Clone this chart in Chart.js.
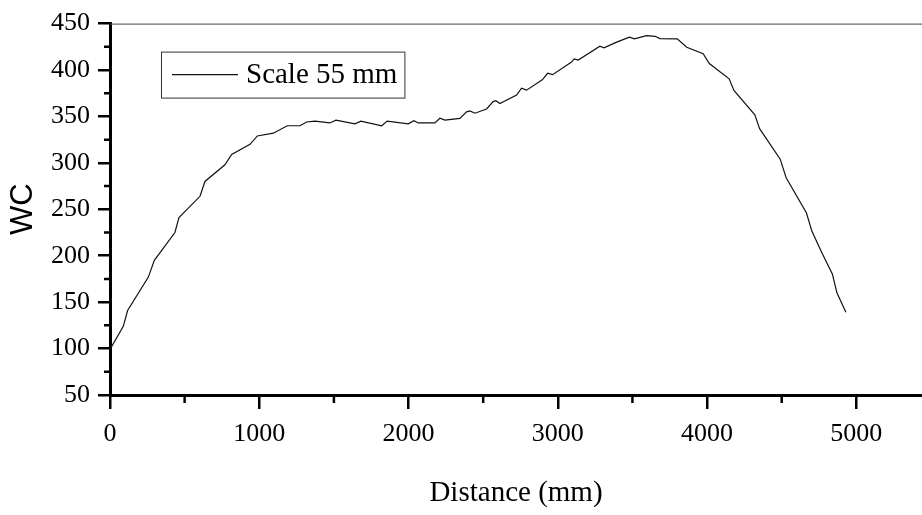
<!DOCTYPE html>
<html>
<head>
<meta charset="utf-8">
<script src="https://cdn.jsdelivr.net/npm/chart.js@4.4.1/dist/chart.umd.min.js"></script>
<style>
  html, body { margin: 0; padding: 0; background: #fff; }
</style>
</head>
<body>
<canvas id="myChart" width="922" height="515"></canvas>
<script>
// distance along the scale (mm) and WC reading
const distance = [0, 89, 118, 257, 297, 435, 462, 603, 636, 770, 815, 938, 987, 1094, 1188,
  1273, 1317, 1373, 1473, 1514, 1641, 1681, 1820, 1857, 1998, 2036, 2065, 2177, 2210, 2244,
  2344, 2389, 2411, 2445, 2523, 2567, 2585, 2612, 2724, 2757, 2791, 2896, 2932, 2965, 3092,
  3110, 3137, 3282, 3309, 3394, 3480, 3513, 3595, 3652, 3684, 3800, 3864, 3974, 4015, 4148,
  4180, 4320, 4352, 4490, 4530, 4666, 4702, 4770, 4840, 4870, 4930];
const wc = [99, 124, 141, 177, 195, 225, 241, 264, 280, 298, 309, 320, 329, 332, 340,
  340, 344, 345, 343, 346, 342, 345, 340, 345, 342, 345.5, 343, 343, 348, 346,
  348, 355, 356, 353.5, 358, 366, 367, 364, 373, 380.5, 378.3, 389.4, 396.5, 395, 408.6,
  412, 410.7, 425.6, 424, 430, 435.3, 433.5, 437, 436.3, 433.8, 433.5, 424.6, 417.5, 407, 390.5,
  378, 351.7, 336.8, 304, 284, 246, 226.5, 203, 180, 160, 139];

const seriesName = 'Scale 55 mm';
const xTicks = [0, 1000, 2000, 3000, 4000, 5000];
const xMinor = [500, 1500, 2500, 3500, 4500];
const yTicks = [50, 100, 150, 200, 250, 300, 350, 400, 450];
const yMinor = [75, 125, 175, 225, 275, 325, 375, 425];

const serif = 'Liberation Serif';

// minor ticks, top frame line and the boxed legend inside the plot
const decor = {
  id: 'decor',
  afterDraw(chart) {
    const ctx = chart.ctx;
    const area = chart.chartArea;
    const xs = chart.scales.x, ys = chart.scales.y;
    ctx.save();
    ctx.strokeStyle = '#000';
    ctx.lineWidth = 2.5;
    ctx.beginPath();
    xMinor.forEach(v => {
      const px = xs.getPixelForValue(v);
      ctx.moveTo(px, area.bottom);
      ctx.lineTo(px, area.bottom + 8);
    });
    yMinor.forEach(v => {
      const py = ys.getPixelForValue(v);
      ctx.moveTo(area.left, py);
      ctx.lineTo(area.left - 6, py);
    });
    ctx.stroke();

    // thin frame along the top
    ctx.strokeStyle = '#444';
    ctx.lineWidth = 1;
    ctx.beginPath();
    ctx.moveTo(area.left, area.top + 0.5);
    ctx.lineTo(area.right, area.top + 0.5);
    ctx.stroke();

    // legend
    const ds = chart.data.datasets[0];
    ctx.font = '29px "' + serif + '"';
    const tw = ctx.measureText(ds.label).width;
    const bx = area.left + 51, by = area.top + 28;
    const bw = 11 + 66 + 8 + tw + 7, bh = 46;
    ctx.strokeStyle = '#333';
    ctx.lineWidth = 1;
    ctx.strokeRect(bx + 0.5, by + 0.5, bw, bh);
    const cy = by + bh / 2;
    ctx.strokeStyle = ds.borderColor;
    ctx.lineWidth = ds.borderWidth;
    ctx.beginPath();
    ctx.moveTo(bx + 11, cy);
    ctx.lineTo(bx + 77, cy);
    ctx.stroke();
    ctx.fillStyle = '#000';
    ctx.textBaseline = 'middle';
    ctx.fillText(ds.label, bx + 85, cy + 1);
    ctx.restore();
  }
};

const ctx = document.getElementById('myChart');

const chart = new Chart(ctx, {
  type: 'line',
  data: {
    datasets: [{
      label: seriesName,
      data: distance.map((d, i) => ({ x: d, y: wc[i] })),
      borderColor: '#111',
      borderWidth: 1.2,
      pointRadius: 0,
      tension: 0,
      fill: false
    }]
  },
  options: {
    responsive: false,
    animation: false,
    layout: { padding: { top: 20, right: 0, left: 0, bottom: 0 } },
    plugins: {
      legend: { display: false },
      tooltip: { enabled: false }
    },
    scales: {
      x: {
        type: 'linear',
        min: 0,
        max: 5440,
        afterBuildTicks: s => { s.ticks = xTicks.map(v => ({ value: v })); },
        afterFit: s => { s.height = 120; },
        ticks: {
          color: '#000',
          font: { family: serif, size: 26 },
          padding: 10,
          maxRotation: 0,
          callback: v => String(v)
        },
        grid: {
          drawOnChartArea: false,
          tickLength: 14,
          lineWidth: 2.5,
          color: '#000'
        },
        border: { display: true, color: '#000', width: 3 },
        title: {
          display: true,
          text: 'Distance (mm)',
          color: '#000',
          font: { family: serif, size: 29 },
          padding: { top: 0, bottom: 4 }
        }
      },
      y: {
        min: 50,
        max: 450,
        afterBuildTicks: s => { s.ticks = yTicks.map(v => ({ value: v })); },
        afterFit: s => { s.width = 110; },
        ticks: {
          color: '#000',
          font: { family: serif, size: 26 },
          padding: 8,
          callback: v => String(v)
        },
        grid: {
          drawOnChartArea: false,
          tickLength: 12,
          lineWidth: 2.5,
          color: '#000'
        },
        border: { display: true, color: '#000', width: 3 },
        title: {
          display: true,
          text: 'WC',
          color: '#000',
          font: { family: 'Liberation Sans', size: 31 },
          padding: { top: 5, bottom: 0 }
        }
      }
    }
  },
  plugins: [decor]
});
</script>
</body>
</html>
